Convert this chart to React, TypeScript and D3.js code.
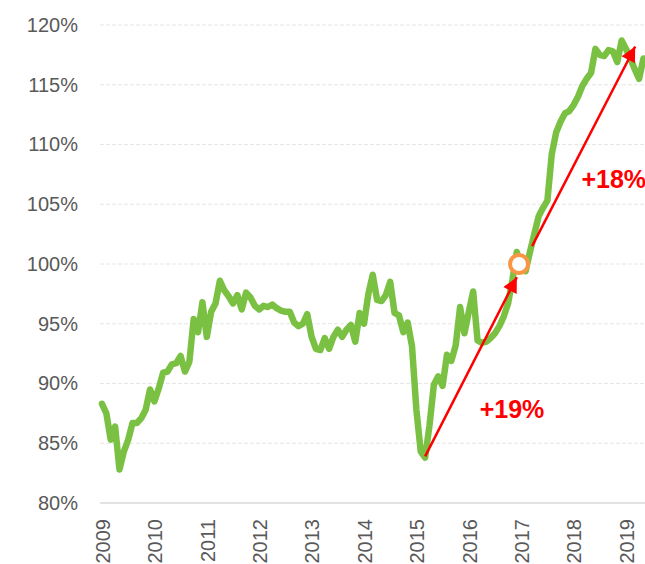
import React, { useEffect, useRef } from "react";
import * as d3 from "d3";

// year labels on the category axis (one every 12 months, starting Jan 2009)
const years = ["2009", "2010", "2011", "2012", "2013", "2014", "2015", "2016", "2017", "2018", "2019"];
const yTicks = [80, 85, 90, 95, 100, 105, 110, 115, 120];

// monthly index values in %, Jan 2009 .. May 2019
const values = [
  88.3, 87.5, 85.3, 86.4, 82.8, 84.3, 85.3, 86.7, 86.7, 87.1, 87.8, 89.5,
  88.5, 89.6, 90.9, 91.0, 91.6, 91.7, 92.3, 91.0, 91.8, 95.4, 94.3, 96.8,
  93.9, 96.0, 96.7, 98.6, 97.8, 97.3, 96.7, 97.4, 96.2, 97.6, 97.2, 96.5,
  96.2, 96.5, 96.4, 96.6, 96.3, 96.1, 96.0, 96.0, 95.1, 94.8, 95.0, 95.8,
  93.9, 92.9, 92.8, 93.8, 92.9, 93.9, 94.5, 93.9, 94.5, 94.9, 93.5, 95.9,
  95.0, 97.5, 99.1, 97.0, 96.9, 97.4, 98.5, 95.9, 95.7, 94.3, 95.1, 93.1,
  87.8, 84.3, 83.8, 86.5, 89.9, 90.6, 89.8, 92.4, 91.9, 93.2, 96.4, 94.2,
  96.0, 97.7, 93.6, 93.4, 93.5, 93.8, 94.2, 94.8, 95.6, 96.7, 98.7, 101.0,
  99.6, 99.4, 101.0, 102.5, 104.0, 104.7, 105.3, 109.2, 111.0, 111.9, 112.6, 112.8,
  113.3, 114.0, 114.9, 115.5, 116.0, 118.0, 117.5, 117.4, 117.9, 117.8, 116.9, 118.7,
  118.0, 117.2, 116.3, 115.5, 117.2,
];

// annotations, in (month index, %) units
const arrowFrom = [[74, 83.9], [98.5, 101.5]];
const arrowTo = [[95, 98.9], [122.1, 118.2]];
const gainLabels = ["+19%", "+18%"];
const gainLabelAt = [[86.5, 87.1], [109.8, 106.4]];
const baseMark = [95.5, 100];

const App = () => {
  const chart = useRef<SVGSVGElement>(null);

  useEffect(() => {
    const width = 645;
    const svg = d3.select(chart.current);
    svg.selectAll("*").remove();

    const x = d3.scaleLinear().domain([0, 120]).range([102, 626]);
    const y = d3.scaleLinear().domain([80, 120]).range([503, 25]);

    // gridlines
    svg
      .append("g")
      .selectAll("line")
      .data(yTicks)
      .join("line")
      .attr("x1", 100)
      .attr("x2", width)
      .attr("y1", (d) => y(d))
      .attr("y2", (d) => y(d))
      .attr("stroke", (d) => (d === 80 ? "#d9d9d9" : "#e6e6e6"))
      .attr("stroke-width", (d) => (d === 80 ? 1.5 : 1))
      .attr("stroke-dasharray", (d) => (d === 80 ? null : "4 2"));

    // y axis labels
    const yAxis = svg
      .append("g")
      .attr("transform", "translate(78,0)")
      .call(
        d3
          .axisLeft(y)
          .tickValues(yTicks)
          .tickFormat((d) => `${d}%`)
          .tickSize(0)
          .tickPadding(0)
      );
    yAxis.select(".domain").remove();
    yAxis
      .selectAll("text")
      .attr("font-family", "Liberation Sans, Arial, sans-serif")
      .attr("font-size", 20)
      .attr("fill", "#595959");

    // x axis labels, rotated
    const xAxis = svg
      .append("g")
      .attr("transform", `translate(0,503)`)
      .call(
        d3
          .axisBottom(x)
          .tickValues(years.map((_, i) => i * 12))
          .tickFormat((d, i) => years[i])
          .tickSize(0)
      );
    xAxis.select(".domain").remove();
    xAxis
      .selectAll("text")
      .attr("transform", "rotate(-90)")
      .attr("text-anchor", "end")
      .attr("x", -16)
      .attr("y", 0)
      .attr("dy", "0.36em")
      .attr("font-family", "Liberation Sans, Arial, sans-serif")
      .attr("font-size", 20)
      .attr("fill", "#595959");

    // the series
    const line = d3
      .line<number>()
      .x((d, i) => x(i))
      .y((d) => y(d));

    svg
      .append("path")
      .datum(values)
      .attr("d", line)
      .attr("fill", "none")
      .attr("stroke", "#7ac143")
      .attr("stroke-width", 6.5)
      .attr("stroke-linejoin", "round")
      .attr("stroke-linecap", "round");

    // arrows
    svg
      .append("defs")
      .append("marker")
      .attr("id", "head")
      .attr("viewBox", "0 0 10 10")
      .attr("refX", 10)
      .attr("refY", 5)
      .attr("markerWidth", 17)
      .attr("markerHeight", 15)
      .attr("markerUnits", "userSpaceOnUse")
      .attr("orient", "auto")
      .append("path")
      .attr("d", "M0,0L10,5L0,10Z")
      .attr("fill", "#ff0000");

    svg
      .append("g")
      .selectAll("line")
      .data(arrowFrom)
      .join("line")
      .attr("x1", (d) => x(d[0]))
      .attr("y1", (d) => y(d[1]))
      .attr("x2", (d, i) => x(arrowTo[i][0]))
      .attr("y2", (d, i) => y(arrowTo[i][1]))
      .attr("stroke", "#ff0000")
      .attr("stroke-width", 2.5)
      .attr("marker-end", "url(#head)");

    svg
      .append("g")
      .selectAll("text")
      .data(gainLabels)
      .join("text")
      .attr("x", (d, i) => x(gainLabelAt[i][0]))
      .attr("y", (d, i) => y(gainLabelAt[i][1]))
      .attr("font-family", "Liberation Sans, Arial, sans-serif")
      .attr("font-weight", "bold")
      .attr("font-size", 25)
      .attr("fill", "#ff0000")
      .text((d) => d);

    // 100% base point
    svg
      .append("circle")
      .attr("cx", x(baseMark[0]))
      .attr("cy", y(baseMark[1]))
      .attr("r", 9)
      .attr("fill", "#ffffff")
      .attr("stroke", "#f79646")
      .attr("stroke-width", 4);
  }, []);

  return (
    <div style={{ position: "absolute", left: 0, top: 0 }}>
      <svg ref={chart} width={645} height={564} style={{ display: "block", background: "#fff" }}></svg>
    </div>
  );
};

export default App;
